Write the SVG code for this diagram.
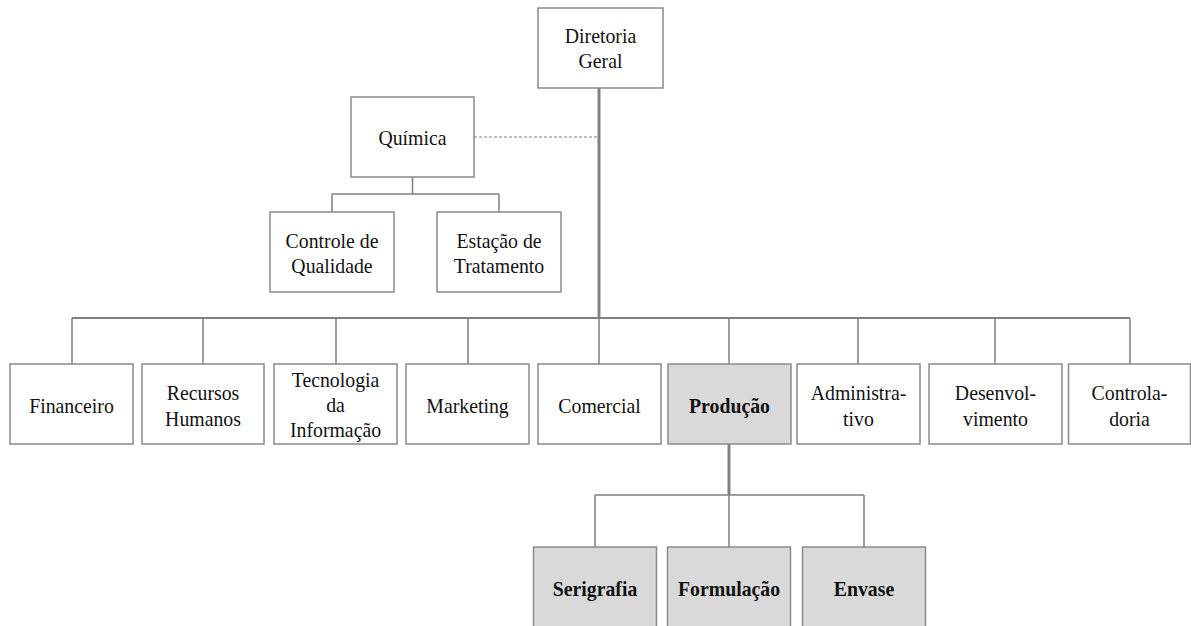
<svg xmlns="http://www.w3.org/2000/svg" width="1191" height="626" viewBox="0 0 1191 626">
<style>
.box{fill:#ffffff;stroke:#8a8a8a;stroke-width:1.5}
.gbox{fill:#d9d9d9;stroke:#8a8a8a;stroke-width:1.5}
.t{font-family:"Liberation Serif","Times New Roman",serif;font-size:22px;fill:#111;text-anchor:middle}
.b{font-weight:bold}
.ln{fill:none;stroke:#808080;stroke-width:1.5}
.thick{fill:none;stroke:#808080;stroke-width:3}
.mid{fill:none;stroke:#808080;stroke-width:2}
.dash{fill:none;stroke:#808080;stroke-width:1;stroke-dasharray:3 2}
</style>
<rect width="1191" height="626" fill="#ffffff"/>
<g id="connectors">
<path class="thick" d="M599 88 V318"/>
<path class="dash" d="M474 137 H598"/>
<path class="ln" d="M412.5 177 V194 M332 194 H499 M332 194 V212 M499 194 V212"/>
<path class="mid" d="M72 318 H1130"/>
<path class="ln" d="M72 318 V364 M203 318 V364 M336 318 V364 M468 318 V364 M599 318 V364 M729 318 V364 M858 318 V364 M995 318 V364 M1130 318 V364"/>
<path class="thick" d="M729 444 V495"/>
<path class="ln" d="M595 495 H864 M595 495 V547 M729 495 V547 M864 495 V547"/>
</g>
<g id="diretoria">
<rect class="box" x="538" y="8" width="125" height="80"/>
<text class="t" transform="translate(600.5 43) scale(0.9 1)">Diretoria</text>
<text class="t" transform="translate(600.5 68) scale(0.9 1)">Geral</text>
</g>
<g id="quimica">
<rect class="box" x="351" y="97" width="123" height="80"/>
<text class="t" transform="translate(412.5 145) scale(0.9 1)">Química</text>
</g>
<g id="controle-qualidade">
<rect class="box" x="270" y="212" width="124" height="80"/>
<text class="t" transform="translate(332 248) scale(0.9 1)">Controle de</text>
<text class="t" transform="translate(332 273) scale(0.9 1)">Qualidade</text>
</g>
<g id="estacao-tratamento">
<rect class="box" x="437" y="212" width="124" height="80"/>
<text class="t" transform="translate(499 248) scale(0.9 1)">Estação de</text>
<text class="t" transform="translate(499 273) scale(0.9 1)">Tratamento</text>
</g>
<g id="financeiro">
<rect class="box" x="10" y="364" width="123" height="80"/>
<text class="t" transform="translate(71.5 413) scale(0.9 1)">Financeiro</text>
</g>
<g id="recursos-humanos">
<rect class="box" x="142" y="364" width="122" height="80"/>
<text class="t" transform="translate(203 400) scale(0.9 1)">Recursos</text>
<text class="t" transform="translate(203 426) scale(0.9 1)">Humanos</text>
</g>
<g id="tecnologia">
<rect class="box" x="274" y="364" width="123" height="80"/>
<text class="t" transform="translate(335.5 387) scale(0.9 1)">Tecnologia</text>
<text class="t" transform="translate(335.5 412) scale(0.9 1)">da</text>
<text class="t" transform="translate(335.5 437) scale(0.9 1)">Informação</text>
</g>
<g id="marketing">
<rect class="box" x="406" y="364" width="123" height="80"/>
<text class="t" transform="translate(467.5 413) scale(0.9 1)">Marketing</text>
</g>
<g id="comercial">
<rect class="box" x="538" y="364" width="123" height="80"/>
<text class="t" transform="translate(599.5 413) scale(0.9 1)">Comercial</text>
</g>
<g id="producao">
<rect class="gbox" x="668" y="364" width="123" height="80"/>
<text class="t b" transform="translate(729.5 413) scale(0.9 1)">Produção</text>
</g>
<g id="administrativo">
<rect class="box" x="797" y="364" width="123" height="80"/>
<text class="t" transform="translate(858.5 400) scale(0.9 1)">Administra-</text>
<text class="t" transform="translate(858.5 426) scale(0.9 1)">tivo</text>
</g>
<g id="desenvolvimento">
<rect class="box" x="929" y="364" width="133" height="80"/>
<text class="t" transform="translate(995.5 400) scale(0.9 1)">Desenvol-</text>
<text class="t" transform="translate(995.5 426) scale(0.9 1)">vimento</text>
</g>
<g id="controladoria">
<rect class="box" x="1068.5" y="364" width="122" height="80"/>
<text class="t" transform="translate(1129.5 400) scale(0.9 1)">Controla-</text>
<text class="t" transform="translate(1129.5 426) scale(0.9 1)">doria</text>
</g>
<g id="serigrafia">
<rect class="gbox" x="533.5" y="547" width="123" height="82"/>
<text class="t b" transform="translate(595 596) scale(0.9 1)">Serigrafia</text>
</g>
<g id="formulacao">
<rect class="gbox" x="667.5" y="547" width="123" height="82"/>
<text class="t b" transform="translate(729 596) scale(0.9 1)">Formulação</text>
</g>
<g id="envase">
<rect class="gbox" x="802.5" y="547" width="123" height="82"/>
<text class="t b" transform="translate(864 596) scale(0.9 1)">Envase</text>
</g>
</svg>
